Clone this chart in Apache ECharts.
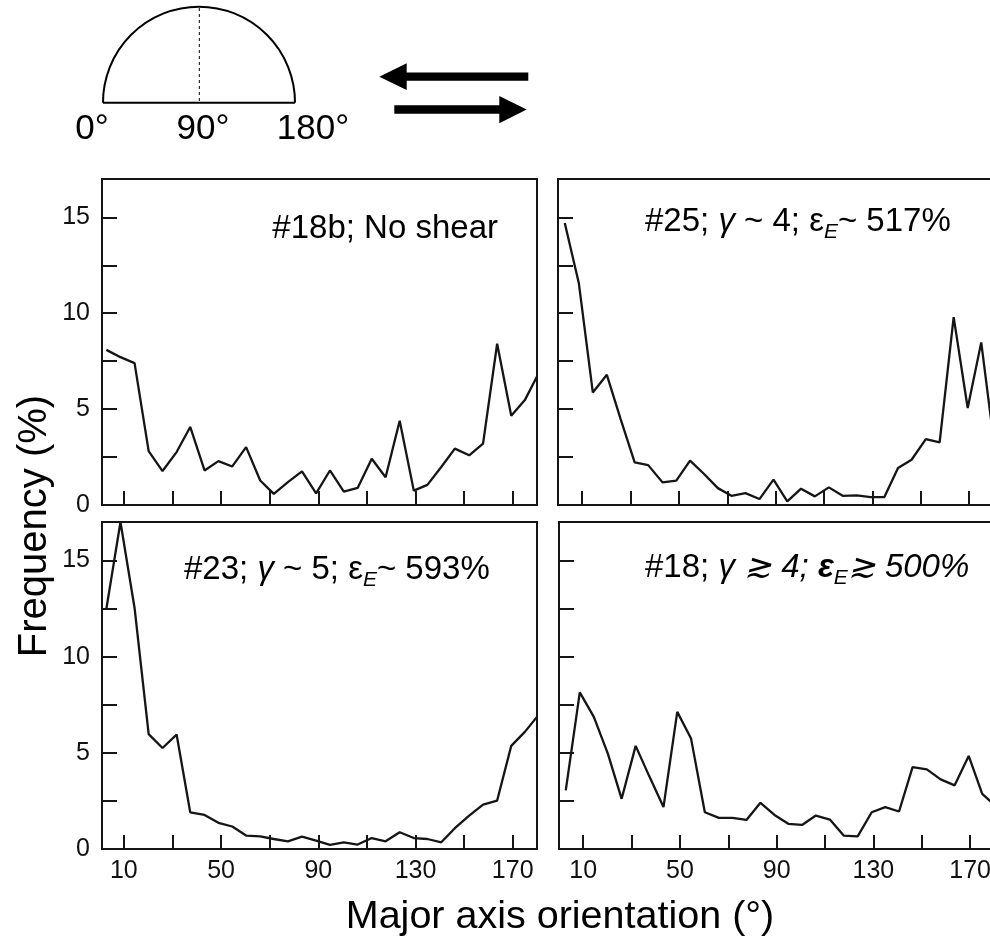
<!DOCTYPE html>
<html><head><meta charset="utf-8">
<script src="https://cdn.jsdelivr.net/npm/echarts@6/dist/echarts.min.js"></script>
<style>html,body{margin:0;padding:0;background:#fff}#c{width:990px;height:939px}</style>
</head><body><div id="c"></div>
<script>
// ---- data ----
const orientation = [2.8, 8.6, 14.4, 20.2, 25.9, 31.7, 37.3, 43.2, 48.9, 54.6, 60.3, 66.1, 71.7, 77.5, 83.3, 89.1,
  94.8, 100.5, 106.2, 112.0, 117.7, 123.5, 129.3, 134.9, 140.6, 146.2, 152.1, 157.8, 163.6, 169.4, 175.0, 180.0];
const freq18b = [8.09, 7.71, 7.40, 2.81, 1.77, 2.76, 4.07, 1.80, 2.29, 2.01, 3.02, 1.28, 0.58, 1.19, 1.75, 0.61,
  1.80, 0.70, 0.89, 2.41, 1.45, 4.39, 0.75, 1.05, 1.98, 2.94, 2.59, 3.20, 8.41, 4.65, 5.47, 6.70];
const freq25 = [14.7, 11.58, 5.87, 6.79, 4.48, 2.22, 2.08, 1.18, 1.27, 2.31, 1.63, 0.88, 0.48, 0.62, 0.31, 1.32,
  0.19, 0.85, 0.45, 0.92, 0.48, 0.50, 0.41, 0.41, 1.93, 2.36, 3.44, 3.27, 9.80, 5.06, 8.48, 3.5];
const freq23 = [12.49, 17.0, 12.53, 5.97, 5.25, 5.95, 1.91, 1.77, 1.36, 1.17, 0.70, 0.66, 0.52, 0.40, 0.64, 0.44,
  0.21, 0.35, 0.23, 0.57, 0.40, 0.87, 0.57, 0.52, 0.35, 1.08, 1.74, 2.31, 2.52, 5.36, 6.09, 6.87];
const freq18 = [3.05, 8.14, 6.87, 4.96, 2.61, 5.36, 3.79, 2.18, 7.13, 5.74, 1.91, 1.62, 1.62, 1.51, 2.40, 1.77,
  1.31, 1.25, 1.74, 1.53, 0.70, 0.66, 1.91, 2.18, 1.95, 4.26, 4.14, 3.62, 3.31, 4.84, 2.87, 2.3];
const xTicks = [10, 30, 50, 70, 90, 110, 130, 150, 170];
const xTickLabels = [10, 50, 90, 130, 170];
const yTicks = [0, 2.5, 5, 7.5, 10, 12.5, 15];
const yTickLabels = [0, 5, 10, 15];
const schematicLabels = ['0°', '90°', '180°'];
const xTitle = 'Major axis orientation (°)';
const yTitle = 'Frequency (%)';

// ---- chart ----
const FF = '"Liberation Sans", Arial, Helvetica, sans-serif';
const INK = '#151515';
// right-hand panels continue past the page edge (cropped like the reference)
const panels = [
  { data: freq18b, grid: { left: 102, top: 179, width: 435, height: 326 }, xmin: 1, xmax: 180, ylab: true, xlab: false },
  { data: freq25, grid: { left: 558, top: 179, width: 445, height: 326 }, xmin: 0, xmax: 184, ylab: false, xlab: false },
  { data: freq23, grid: { left: 102, top: 522, width: 435, height: 327 }, xmin: 1, xmax: 180, ylab: true, xlab: true },
  { data: freq18, grid: { left: 559, top: 522, width: 445, height: 327 }, xmin: 0, xmax: 184, ylab: false, xlab: true }
];

const chart = echarts.init(document.getElementById('c'), null, { renderer: 'canvas' });

const grid = panels.map(p => Object.assign({ show: true, borderColor: INK, borderWidth: 2, backgroundColor: 'transparent',
  containLabel: false, outerBoundsMode: 'none' }, p.grid));
const xAxis = panels.map((p, i) => ({
  gridIndex: i, type: 'value', min: p.xmin, max: p.xmax,
  axisLine: { show: true, onZero: false, lineStyle: { color: INK, width: 2 } },
  axisTick: { show: true, inside: true, length: 14, customValues: xTicks, lineStyle: { color: INK, width: 2 } },
  axisLabel: { show: p.xlab, customValues: xTickLabels, fontSize: 25, color: '#111', margin: 10, fontFamily: FF },
  splitLine: { show: false }
}));
const yAxis = panels.map((p, i) => ({
  gridIndex: i, type: 'value', min: 0, max: 17,
  axisLine: { show: true, onZero: false, lineStyle: { color: INK, width: 2 } },
  axisTick: { show: true, inside: true, length: 15, customValues: yTicks, lineStyle: { color: INK, width: 2 } },
  axisLabel: { show: p.ylab, customValues: yTickLabels, fontSize: 25, color: '#111', margin: 12, fontFamily: FF },
  splitLine: { show: false }
}));
const series = panels.map((p, i) => ({
  type: 'line', xAxisIndex: i, yAxisIndex: i, symbol: 'none', showSymbol: false, clip: true,
  lineStyle: { color: INK, width: 2.3 },
  data: orientation.map((x, k) => [x, p.data[k]])
}));

const FS = 33;
const mainRich = {
  n: { fontSize: FS, fontFamily: FF, fill: '#000' },
  i: { fontSize: FS, fontFamily: FF, fontStyle: 'italic', fill: '#000' },
  b: { fontSize: FS, fontFamily: FF, fontStyle: 'italic', fontWeight: 'bold', fill: '#000' },
  s: { fontSize: 21, fontFamily: FF, fontStyle: 'italic', fill: '#000', lineHeight: 21, padding: [21, 0, 0, 0] }
};

const graphic = [
  // schematic: half circle with dashed 90° line
  { type: 'arc', shape: { cx: 199, cy: 102.7, r: 96, startAngle: Math.PI, endAngle: 2 * Math.PI, clockwise: true },
    style: { stroke: '#000', fill: null, lineWidth: 2 } },
  { type: 'line', shape: { x1: 103, y1: 102.7, x2: 295, y2: 102.7 }, style: { stroke: '#000', lineWidth: 2 } },
  { type: 'line', shape: { x1: 199.3, y1: 8, x2: 199.3, y2: 102 }, style: { stroke: '#000', lineWidth: 1, lineDash: [3, 3] } },
  { type: 'text', x: 92, y: 129.5, style: { text: schematicLabels[0], font: '35px ' + FF, fill: '#000', align: 'center', verticalAlign: 'middle' } },
  { type: 'text', x: 203, y: 129.5, style: { text: schematicLabels[1], font: '35px ' + FF, fill: '#000', align: 'center', verticalAlign: 'middle' } },
  { type: 'text', x: 313, y: 129.5, style: { text: schematicLabels[2], font: '35px ' + FF, fill: '#000', align: 'center', verticalAlign: 'middle' } },
  // shear arrows
  { type: 'polygon', shape: { points: [[379.3, 76.7], [406.7, 63.3], [406.7, 72.6], [528.3, 72.6], [528.3, 80.8], [406.7, 80.8], [406.7, 90]] },
    style: { fill: '#000' } },
  { type: 'polygon', shape: { points: [[526.7, 109.6], [499.3, 96], [499.3, 105.3], [394.3, 105.3], [394.3, 113.8], [499.3, 113.8], [499.3, 123.3]] },
    style: { fill: '#000' } },
  // panel annotations
  { type: 'text', x: 498, y: 228.5, style: { text: '#18b; No shear', font: FS + 'px ' + FF, fill: '#000', align: 'right', verticalAlign: 'middle' } },
  { type: 'text', x: 645, y: 205.5, style: { text: '{n|#25; }{i|γ}{n| ~ 4; ε}{s|E}{n|~ 517%}', rich: mainRich, fill: '#000', align: 'left', verticalAlign: 'top' } },
  { type: 'text', x: 184, y: 553, style: { text: '{n|#23; }{i|γ}{n| ~ 5; ε}{s|E}{n|~ 593%}', rich: mainRich, fill: '#000', align: 'left', verticalAlign: 'top' } },
  { type: 'text', x: 645, y: 551.5, style: { text: '{n|#18; }{i|γ ≳ 4; }{b|ε}{s|E}{i|≳ 500%}', rich: mainRich, fill: '#000', align: 'left', verticalAlign: 'top' } },
  // axis titles
  { type: 'text', x: 35, y: 526, rotation: Math.PI / 2, style: { text: yTitle, font: '40px ' + FF, fill: '#000', align: 'center', verticalAlign: 'middle' } },
  { type: 'text', x: 560, y: 917, style: { text: xTitle, font: '39.5px ' + FF, fill: '#000', align: 'center', verticalAlign: 'middle' } }
];

chart.setOption({
  animation: false,
  backgroundColor: '#fff',
  grid, xAxis, yAxis, series, graphic
});
</script>
</body></html>
